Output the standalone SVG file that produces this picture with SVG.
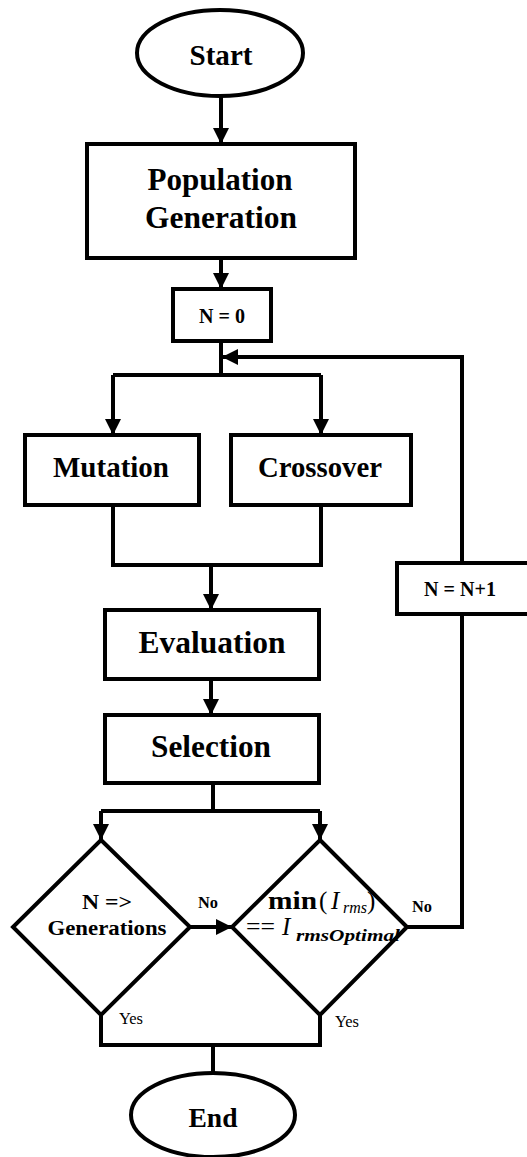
<svg xmlns="http://www.w3.org/2000/svg" width="527" height="1157" viewBox="0 0 527 1157">
<style>
.s{fill:#fff;stroke:#000;stroke-width:4}
.c{fill:none;stroke:#000;stroke-width:4;stroke-linejoin:miter}
.t{font-family:"Liberation Serif","Times New Roman",serif;font-weight:bold;fill:#000;text-anchor:middle}
.l{font-family:"Liberation Serif","Times New Roman",serif;fill:#000;font-size:16px}
.m{font-family:"Liberation Serif","Times New Roman",serif;fill:#000}
.i{font-style:italic}
</style>
<defs>
<marker id="ah" viewBox="0 0 10 10" refX="10" refY="5" markerWidth="4" markerHeight="4" orient="auto" markerUnits="strokeWidth">
<path d="M0,0 L10,5 L0,10 z" fill="#000"/>
</marker>
</defs>
<rect width="527" height="1157" fill="#fff"/>
<g id="connectors">
<path class="c" d="M221,97 V144" marker-end="url(#ah)"/>
<path class="c" d="M221,258 V289" marker-end="url(#ah)"/>
<path class="c" d="M221,341 V375"/>
<path class="c" d="M113,375 H321"/>
<path class="c" d="M113,375 V435" marker-end="url(#ah)"/>
<path class="c" d="M321,375 V435" marker-end="url(#ah)"/>
<path class="c" d="M113,505 V565 H321 V505"/>
<path class="c" d="M211,565 V610" marker-end="url(#ah)"/>
<path class="c" d="M211,679 V715" marker-end="url(#ah)"/>
<path class="c" d="M213,783 V811"/>
<path class="c" d="M101,811 H320"/>
<path class="c" d="M101,811 V840" marker-end="url(#ah)"/>
<path class="c" d="M320,811 V840" marker-end="url(#ah)"/>
<path class="c" d="M190,927 H232" marker-end="url(#ah)"/>
<path class="c" d="M407,927 H462 V614"/>
<path class="c" d="M462,563 V357 H222" marker-end="url(#ah)"/>
<path class="c" d="M101,1015 V1045 H320 V1015"/>
<path class="c" d="M213,1045 V1073"/>
<text class="l" x="198" y="908" font-weight="bold" textLength="20" lengthAdjust="spacingAndGlyphs">No</text>
<text class="l" x="412" y="912" font-weight="bold" textLength="20" lengthAdjust="spacingAndGlyphs">No</text>
<text class="l" x="119" y="1024" textLength="24" lengthAdjust="spacingAndGlyphs">Yes</text>
<text class="l" x="335" y="1027" textLength="24" lengthAdjust="spacingAndGlyphs">Yes</text>
</g>
<g id="start">
<ellipse class="s" cx="220" cy="53" rx="83" ry="43"/>
<text class="t" x="221" y="65" font-size="29" textLength="63" lengthAdjust="spacingAndGlyphs">Start</text>
</g>
<g id="population">
<rect class="s" x="87" y="144" width="268" height="114"/>
<text class="t" x="220" y="190" font-size="31" textLength="145" lengthAdjust="spacingAndGlyphs">Population</text>
<text class="t" x="221" y="228" font-size="31" textLength="152" lengthAdjust="spacingAndGlyphs">Generation</text>
</g>
<g id="n0">
<rect class="s" x="173" y="289" width="98" height="52"/>
<text class="t" x="222" y="323" font-size="20" textLength="46" lengthAdjust="spacingAndGlyphs">N = 0</text>
</g>
<g id="mutation">
<rect class="s" x="25" y="435" width="174" height="70"/>
<text class="t" x="111" y="477" font-size="29" textLength="116" lengthAdjust="spacingAndGlyphs">Mutation</text>
</g>
<g id="crossover">
<rect class="s" x="231" y="435" width="180" height="70"/>
<text class="t" x="320" y="477" font-size="29" textLength="124" lengthAdjust="spacingAndGlyphs">Crossover</text>
</g>
<g id="increment">
<rect class="s" x="397" y="563" width="134" height="51"/>
<text class="t" x="460" y="596" font-size="20" textLength="72" lengthAdjust="spacingAndGlyphs">N = N+1</text>
</g>
<g id="evaluation">
<rect class="s" x="105" y="610" width="214" height="69"/>
<text class="t" x="212" y="653" font-size="31" textLength="147" lengthAdjust="spacingAndGlyphs">Evaluation</text>
</g>
<g id="selection">
<rect class="s" x="105" y="715" width="214" height="68"/>
<text class="t" x="211" y="757" font-size="31" textLength="120" lengthAdjust="spacingAndGlyphs">Selection</text>
</g>
<g id="cond1">
<path class="s" d="M101,840 L190,927 L101,1015 L13,927 Z"/>
<text class="t" x="107" y="909" font-size="22" font-weight="normal" textLength="50" lengthAdjust="spacingAndGlyphs">N =&gt;</text>
<text class="t" x="107" y="935" font-size="22" textLength="119" lengthAdjust="spacingAndGlyphs">Generations</text>
</g>
<g id="cond2">
<path class="s" d="M320,840 L407,927 L320,1015 L232,927 Z"/>
<text class="m" x="268" y="909" font-size="25" font-weight="bold" textLength="49" lengthAdjust="spacingAndGlyphs">min</text>
<text class="m" x="319" y="909" font-size="25">(</text>
<text class="m i" x="331" y="909" font-size="25">I</text>
<text class="m i" x="343" y="913" font-size="17" textLength="24" lengthAdjust="spacingAndGlyphs">rms</text>
<text class="m" x="367" y="909" font-size="25">)</text>
<text class="m" x="246" y="935" font-size="25" textLength="29" lengthAdjust="spacingAndGlyphs">==</text>
<text class="m i" x="282" y="935" font-size="25">I</text>
<text class="m i" x="296" y="941" font-size="17" font-weight="bold" textLength="104" lengthAdjust="spacingAndGlyphs">rmsOptimal</text>
</g>
<g id="end">
<ellipse class="s" cx="213" cy="1115" rx="82" ry="42"/>
<text class="t" x="213" y="1127" font-size="28" textLength="49" lengthAdjust="spacingAndGlyphs">End</text>
</g>
</svg>
